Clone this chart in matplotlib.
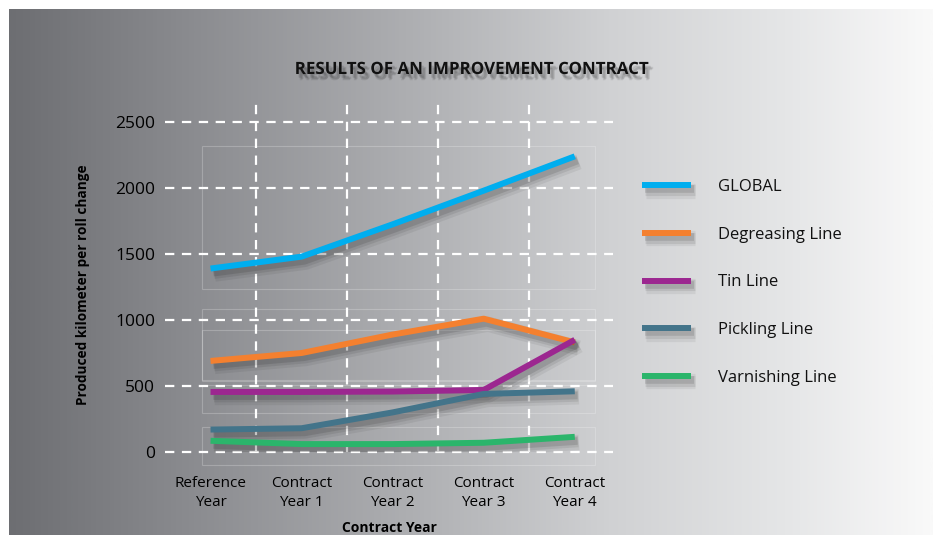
import numpy as np
import matplotlib.pyplot as plt
import matplotlib.patheffects as pe
from matplotlib.colors import LinearSegmentedColormap
from matplotlib.patches import Rectangle

plt.rcParams['font.family'] = ['Open Sans', 'DejaVu Sans']

# datos
categorias = ['Reference\nYear', 'Contract\nYear 1', 'Contract\nYear 2', 'Contract\nYear 3', 'Contract\nYear 4']
series = ['GLOBAL', 'Degreasing Line', 'Tin Line', 'Pickling Line', 'Varnishing Line']
global_vals = [1390, 1480, 1725, 1980, 2240]
degreasing_vals = [690, 750, 890, 1010, 830]
tin_vals = [455, 455, 458, 470, 850]
pickling_vals = [170, 180, 300, 440, 460]
varnishing_vals = [85, 60, 60, 70, 115]
colores = ['#00aeef', '#f4802f', '#9c2790', '#43748a', '#2bb56b']
yticks = [0, 500, 1000, 1500, 2000, 2500]

valores = [global_vals, degreasing_vals, tin_vals, pickling_vals, varnishing_vals]

fig = plt.figure(figsize=(9.38, 5.35), dpi=100)

# fondo degradado gris
bg = fig.add_axes([9 / 938, 0, 924 / 938, 526 / 535])
bg.set_axis_off()
cmap = LinearSegmentedColormap.from_list('fondo', [
    (0.0, '#6d6e72'), (0.2, '#8b8c90'), (0.45, '#b0b1b4'),
    (0.65, '#d0d1d3'), (0.85, '#e6e7e8'), (1.0, '#f9f9f9')])
grad = np.linspace(0, 1, 512).reshape(1, -1)
bg.imshow(grad, aspect='auto', cmap=cmap, extent=[0, 1, 0, 1])
bg.set_xlim(0, 1)
bg.set_ylim(0, 1)

ax = fig.add_axes([165 / 938, 83 / 535, 448 / 938, 349 / 535])
ax.patch.set_alpha(0)
x = np.arange(len(categorias))

# cajas tenues de fondo
for (y0, y1) in [(1235, 2318), (545, 1083), (538, 924), (295, 508), (-98, 189)]:
    ax.add_patch(Rectangle((-0.09, y0), 4.31, y1 - y0, fill=False,
                           edgecolor='white', alpha=0.22, lw=0.8, clip_on=False, zorder=1))

# rejilla punteada blanca
for yv in yticks:
    ax.axhline(yv, color='white', lw=1.6, linestyle=(0, (4.2, 3.4)), zorder=2, clip_on=False)
for xv in x[:-1] + 0.5:
    ax.axvline(xv, color='white', lw=1.6, linestyle=(0, (4.2, 3.4)), zorder=2)

# sombra difusa (varias capas)
sombra = [pe.SimpleLineShadow(offset=(3, -4), shadow_color='k', alpha=0.06, linewidth=11),
          pe.SimpleLineShadow(offset=(2.5, -3.5), shadow_color='k', alpha=0.08, linewidth=8),
          pe.SimpleLineShadow(offset=(2, -3), shadow_color='k', alpha=0.11, linewidth=5.5),
          pe.Normal()]

for nombre, vals, c in zip(series, valores, colores):
    ax.plot(x, vals, color=c, lw=4.3, label=nombre, solid_capstyle='butt',
            path_effects=sombra, zorder=3)

ax.set_xlim(-0.5, 4.42)
ax.set_ylim(0, 2644)
ax.set_yticks(yticks)
ax.set_xticks(x)
ax.set_xticklabels(categorias, fontsize=11, linespacing=1.3)
ax.tick_params(axis='y', length=0, pad=7, labelsize=12.5)
ax.tick_params(axis='x', length=0, pad=17.5)
for s in ax.spines.values():
    s.set_visible(False)

ax.set_ylabel('Produced kilometer per roll change', fontsize=9.8, fontweight='bold')
ax.yaxis.set_label_coords(-0.168, 0.478)
ax.set_xlabel('Contract Year', fontsize=10, fontweight='bold', labelpad=8)

sombra_txt = [pe.SimplePatchShadow(offset=(o[0], o[1]), shadow_rgbFace='k', alpha=0.07)
              for o in [(1.5, -2.5), (2, -3), (3, -4), (3.5, -3.5), (2.5, -4.5)]] + [pe.Normal()]
fig.text(471 / 938, 1 - 69 / 535, 'RESULTS OF AN IMPROVEMENT CONTRACT', ha='center', va='center',
         fontsize=12.2, fontweight='bold', color='#111111', path_effects=sombra_txt)

leg = ax.legend(loc='upper left', bbox_to_anchor=(642 / 938, 1 - 179 / 535), bbox_transform=fig.transFigure,
                frameon=False, fontsize=12, handlelength=2.95, handletextpad=1.6,
                labelspacing=1.9, borderpad=0, borderaxespad=0)
for t in leg.get_texts():
    t.set_color('#111111')

fig.savefig('out.png', dpi=100)
